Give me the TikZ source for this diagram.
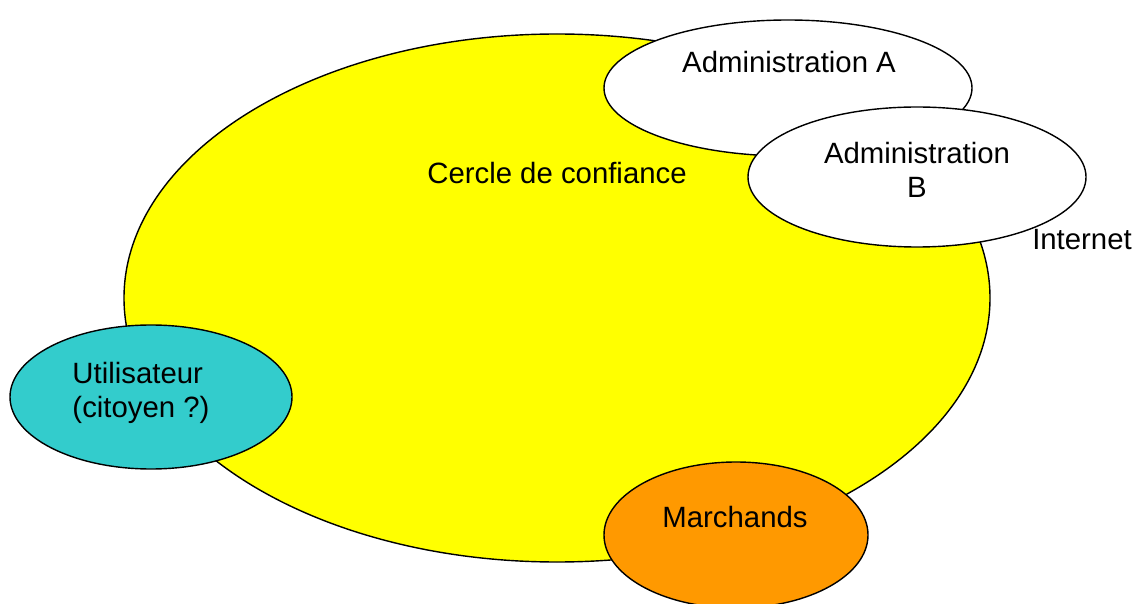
\documentclass[tikz,border=0pt]{standalone}
\usepackage{fontspec}
\setmainfont{Liberation Sans}
\usetikzlibrary{positioning}
\definecolor{cercle}{HTML}{FFFF00}
\definecolor{citoyen}{HTML}{33CCCC}
\definecolor{marchand}{HTML}{FF9900}

\begin{document}
\begin{tikzpicture}[
		zone/.style={draw=black, thick},
		txt/.style={inner sep=0pt, font=\fontsize{16.7}{19.4}\selectfont},
	]
		\useasboundingbox (0,0) rectangle (22.72,12.06);
		
		\draw[zone, fill=cercle] (11.14,6.10) ellipse (8.66 and 5.28);
		\node[txt] (confiance) at (11.14,8.60) {Cercle de confiance};
		
		\draw[zone, fill=white] (15.76,10.30) ellipse (3.68 and 1.36);
		\node[txt] (adminA) at (15.78,10.82) {Administration A};
		
		\draw[zone, fill=white] (18.34,8.52) ellipse (3.38 and 1.40);
		\node[txt, align=center] (adminB) at (18.34,8.67) {Administration\\B};
		\node[txt] (internet) at (21.64,7.26) {Internet};
		
		\draw[zone, fill=citoyen] (3.02,4.12) ellipse (2.82 and 1.44);
		\node[txt, align=left] (user) at (2.82,4.20) {Utilisateur\\(citoyen ?)};
		
		\draw[zone, fill=marchand] (14.72,1.36) ellipse (2.64 and 1.46);
		\node[txt] (marchands) at (14.70,1.72) {Marchands};
	\end{tikzpicture}
\end{document}
